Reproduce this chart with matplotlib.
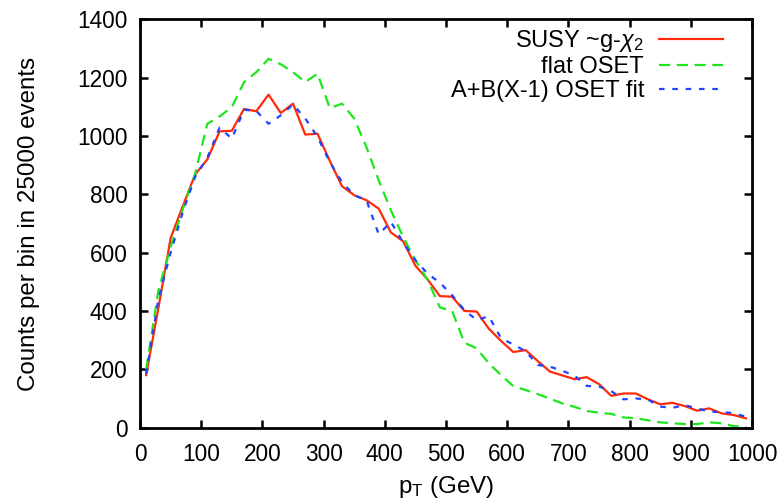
import matplotlib
matplotlib.use("Agg")
import matplotlib.pyplot as plt

plt.rcParams['font.family'] = ['Liberation Sans', 'DejaVu Sans']
plt.rcParams['mathtext.fontset'] = 'custom'
plt.rcParams['mathtext.rm'] = 'Liberation Sans'
plt.rcParams['mathtext.it'] = 'Liberation Sans:italic'

# bin centres (20 GeV bins)
pt = [10, 30, 50, 70, 90, 110, 130, 150, 170, 190,
      210, 230, 250, 270, 290, 310, 330, 350, 370, 390,
      410, 430, 450, 470, 490, 510, 530, 550, 570, 590,
      610, 630, 650, 670, 690, 710, 730, 750, 770, 790,
      810, 830, 850, 870, 890, 910, 930, 950, 970, 990]

susy = [180, 410, 650, 760, 868, 920, 1016, 1018, 1093, 1085,
        1142, 1079, 1111, 1005, 1008, 915, 828, 797, 780, 751,
        669, 639, 555, 508, 451, 449, 400, 398, 339, 297,
        259, 266, 228, 192, 179, 166, 173, 149, 109, 117,
        117, 97, 80, 85, 74, 58, 66, 49, 43, 32]

flat_oset = [200, 470, 620, 750, 870, 1042, 1067, 1099, 1185, 1219,
             1265, 1246, 1219, 1185, 1214, 1096, 1111, 1060, 962, 848,
             745, 654, 574, 506, 412, 400, 291, 272, 220, 180,
             142, 129, 115, 99, 83, 71, 57, 51, 47, 35,
             32, 25, 18, 15, 12, 12, 18, 15, 5, 3]

fit_oset = [184, 440, 600, 740, 860, 925, 1029, 991, 1090, 1086,
            1042, 1071, 1108, 1060, 997, 911, 842, 797, 780, 663,
            705, 635, 574, 528, 497, 454, 403, 369, 382, 306,
            285, 262, 215, 209, 195, 178, 143, 141, 125, 97,
            100, 96, 72, 68, 77, 66, 55, 53, 50, 37]

fig = plt.figure(figsize=(7.84, 5.0), dpi=100)
ax = fig.add_axes([0.1786, 0.1448, 0.7806, 0.8164])

ax.plot(pt, susy, color='#ff2a0a', lw=1.6, label=r'SUSY ~g-$\chi_2$')
ax.plot(pt, flat_oset, color='#1ee61e', lw=1.6, dashes=(5, 3), label='flat OSET')
ax.plot(pt, fit_oset, color='#1e46ff', lw=1.6, dashes=(2.5, 3.5), label='A+B(X-1) OSET fit')

ax.set_xlim(0, 1000)
ax.set_ylim(0, 1400)
ax.set_xticks(range(0, 1001, 100))
ax.set_yticks(range(0, 1401, 200))
ax.tick_params(direction='in', length=6, width=1.8, top=True, right=True,
               labelsize=16.3)
ax.tick_params(axis='x', pad=11)
ax.tick_params(axis='y', pad=9)
for s in ax.spines.values():
    s.set_linewidth(2)

ax.set_xlabel(r'p$_\mathrm{T}$ (GeV)', fontsize=17.4, labelpad=6)
ax.set_ylabel('Counts per bin in 25000 events', fontsize=17.4, labelpad=27)

ax.legend(loc='upper right', bbox_to_anchor=(0.968, 1.002), borderaxespad=0,
          frameon=False, markerfirst=False, fontsize=17,
          handlelength=2.7, handletextpad=0.64, labelspacing=0.08)

fig.savefig('out.png', dpi=100)
